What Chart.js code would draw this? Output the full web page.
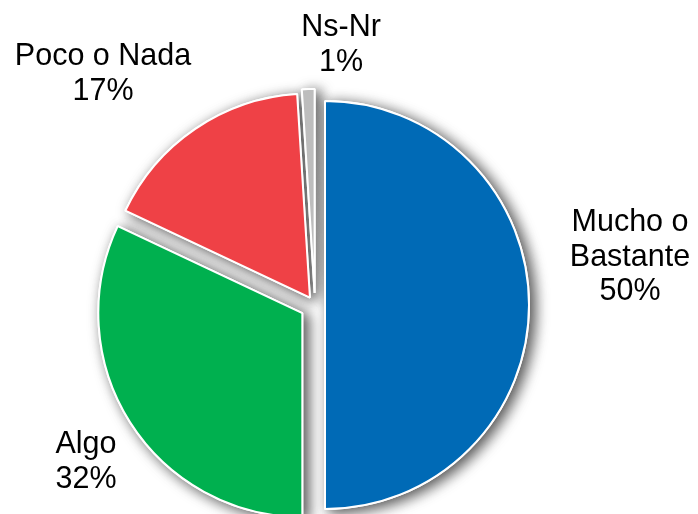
<!DOCTYPE html>
<html>
<head>
<meta charset="utf-8">
<script src="https://cdn.jsdelivr.net/npm/chart.js@4/dist/chart.umd.min.js"></script>
<style>
  html, body { margin: 0; padding: 0; background: #ffffff; }
  #wrap { width: 698px; height: 514px; }
</style>
</head>
<body>
<div id="wrap"><canvas id="c" width="698" height="514"></canvas></div>
<script>
// ---- data ----
const categories = ['Mucho o Bastante', 'Algo', 'Poco o Nada', 'Ns-Nr'];
const labelLines = [['Mucho o', 'Bastante'], ['Algo'], ['Poco o Nada'], ['Ns-Nr']];
const values = [50, 32, 17, 1];
const percentLabels = values.map(v => v + '%');

// ---- styles ----
const colors = ['#006AB6', '#00B04F', '#EF4146', '#BDBDBD'];
const explode = [10, 15, 9, 12];
// label block anchor relative to pie centre (first baseline)
const labelOffsets = [[315, -74], [-229, 148], [-212, -240], [26, -269]];

const explodePlugin = {
  id: 'explode',
  beforeDatasetDraw(chart, args) {
    const ctx = chart.ctx;
    const arcs = args.meta.data;
    const pass = (withShadow) => {
      arcs.forEach((arc, i) => {
        const mid = (arc.startAngle + arc.endAngle) / 2;
        const d = explode[i];
        ctx.save();
        ctx.translate(Math.cos(mid) * d, Math.sin(mid) * d);
        if (withShadow) {
          ctx.shadowColor = 'rgba(0,0,0,0.7)';
          ctx.shadowBlur = 14;
          ctx.shadowOffsetX = 5;
          ctx.shadowOffsetY = 3;
        }
        arc.draw(ctx);
        ctx.restore();
      });
    };
    pass(true);
    pass(false);
    return false;
  }
};

const labelPlugin = {
  id: 'sliceLabels',
  afterDatasetsDraw(chart) {
    const ctx = chart.ctx;
    const arcs = chart.getDatasetMeta(0).data;
    ctx.save();
    ctx.font = '30.5px "Liberation Sans", Arial, sans-serif';
    ctx.fillStyle = '#000000';
    ctx.textAlign = 'center';
    ctx.textBaseline = 'alphabetic';
    const lh = 34.5;
    arcs.forEach((arc, i) => {
      const lines = labelLines[i].concat([percentLabels[i]]);
      const x = arc.x + labelOffsets[i][0];
      const y0 = arc.y + labelOffsets[i][1];
      lines.forEach((t, k) => ctx.fillText(t, x, y0 + k * lh));
    });
    ctx.restore();
  }
};

new Chart(document.getElementById('c'), {
  type: 'pie',
  data: {
    labels: categories,
    datasets: [{
      data: values,
      backgroundColor: colors,
      borderColor: '#ffffff',
      borderWidth: 2,
      hoverOffset: 0
    }]
  },
  options: {
    responsive: false,
    animation: false,
    radius: 204,
    layout: { padding: { left: 0, right: 68, top: 96, bottom: 0 } },
    plugins: {
      legend: { display: false },
      tooltip: { enabled: false },
      title: { display: false }
    },
    events: []
  },
  plugins: [explodePlugin, labelPlugin]
});
</script>
</body>
</html>
